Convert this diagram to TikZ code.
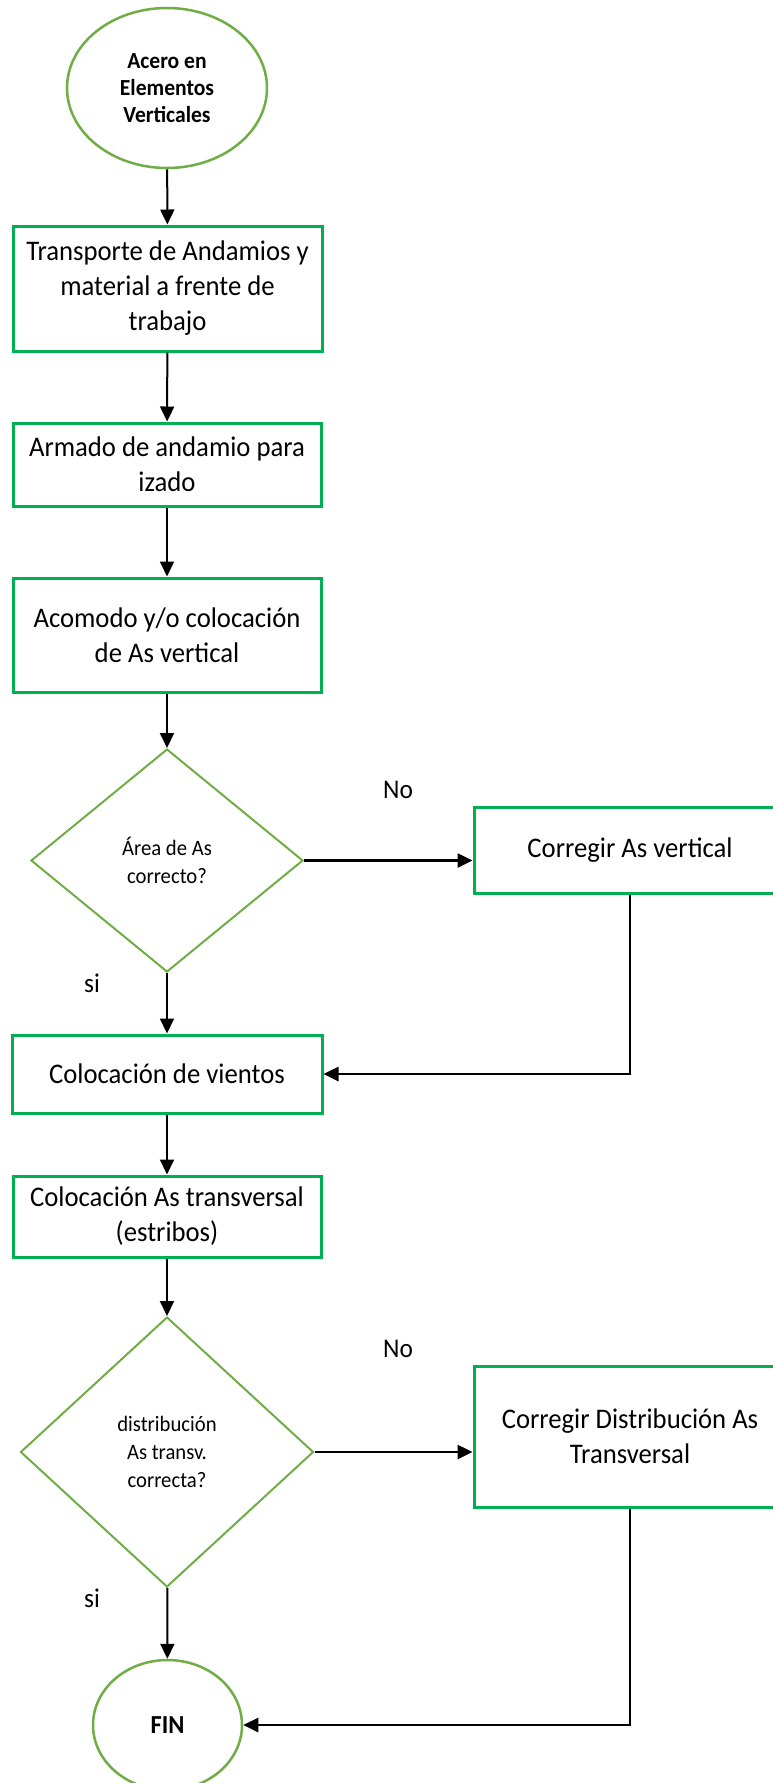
\documentclass[tikz,border=0pt]{standalone}
\usepackage{fontspec}
\setmainfont{Carlito}[FakeStretch=0.94]
\usetikzlibrary{shapes.geometric,arrows.meta}
\definecolor{boxgreen}{HTML}{00B050}
\definecolor{lightgreen}{HTML}{70AD47}
\begin{document}
\begin{tikzpicture}[x=0.5pt,y=-0.5pt,
  procbox/.style={draw=boxgreen,line width=1.5pt,rectangle,inner sep=0pt,align=center,font=\fontsize{14.2}{17.5}\selectfont},
  term/.style={draw=lightgreen,line width=1.25pt,ellipse,inner sep=0pt,align=center,font=\bfseries\fontsize{11.5}{13.5}\selectfont},
  decision/.style={draw=lightgreen,line width=1pt,diamond,inner sep=0pt,align=center,font=\fontsize{11}{14}\selectfont},
  flow/.style={draw=black,line width=1pt,-{Triangle[length=7.5pt,width=7pt]}},
  flowthick/.style={draw=black,line width=1.3pt,-{Triangle[length=7.5pt,width=7pt]}},
  lbl/.style={font=\fontsize{13.5}{15}\selectfont}
]
\useasboundingbox (0,0) rectangle (772,1783);
\fill[white] (0,0) rectangle (772,1783);

\node[term,minimum width=100pt,minimum height=80pt] (start) at (167,88) {Acero en\\Elementos\\Verticales};
\node[procbox,minimum width=154.5pt,minimum height=62.5pt] (b1) at (167.5,288.5) {Transporte de Andamios y\\material a frente de\\trabajo};
\node[procbox,minimum width=154pt,minimum height=41.5pt] (b2) at (167,464.5) {Armado de andamio para\\izado};
\node[procbox,minimum width=154pt,minimum height=57pt] (b3) at (167,635) {Acomodo y/o colocación\\de As vertical};
\node[decision,minimum width=136pt,minimum height=111.5pt] (d1) at (167,860.5) {Área de As\\correcto?};
\node[procbox,minimum width=156pt,minimum height=43pt] (b4) at (630,850) {Corregir As vertical};
\node[procbox,minimum width=155pt,minimum height=39pt] (b5) at (167,1074) {Colocación de vientos};
\node[procbox,minimum width=154pt,minimum height=40.5pt] (b6) at (167,1216.5) {Colocación As transversal\\(estribos)};
\node[decision,minimum width=146.5pt,minimum height=135pt] (d2) at (167,1452) {distribución\\As transv.\\correcta?};
\node[procbox,minimum width=156pt,minimum height=70.5pt] (b7) at (630,1436.5) {Corregir Distribución As\\Transversal};
\node[term,minimum width=74.5pt,minimum height=65pt,font=\bfseries\fontsize{13}{15}\selectfont] (fin) at (167.5,1725) {FIN};

\node[lbl] (no1) at (398,790) {No};
\node[lbl] (si1) at (92,983) {si};
\node[lbl] (no2) at (398,1349) {No};
\node[lbl] (si2) at (92,1598) {si};

\draw[flow] (start) -- (b1);
\draw[flow] (b1) -- (b2);
\draw[flow] (b2) -- (b3);
\draw[flow] (b3) -- (d1);
\draw[flowthick] (d1.east) -- (d1.east -| b4.west);
\draw[flow] (d1) -- (b5);
\coordinate (r1) at (b4.south |- b5.east);
\draw[flowthick] (b4.south) -- (r1) -- (b5.east);
\draw[flow] (b5) -- (b6);
\draw[flow] (b6) -- (d2);
\draw[flowthick] (d2.east) -- (d2.east -| b7.west);
\draw[flow] (d2) -- (fin);
\coordinate (r2) at (b7.south |- fin.east);
\draw[flowthick] (b7.south) -- (r2) -- (fin.east);
\end{tikzpicture}
\end{document}
